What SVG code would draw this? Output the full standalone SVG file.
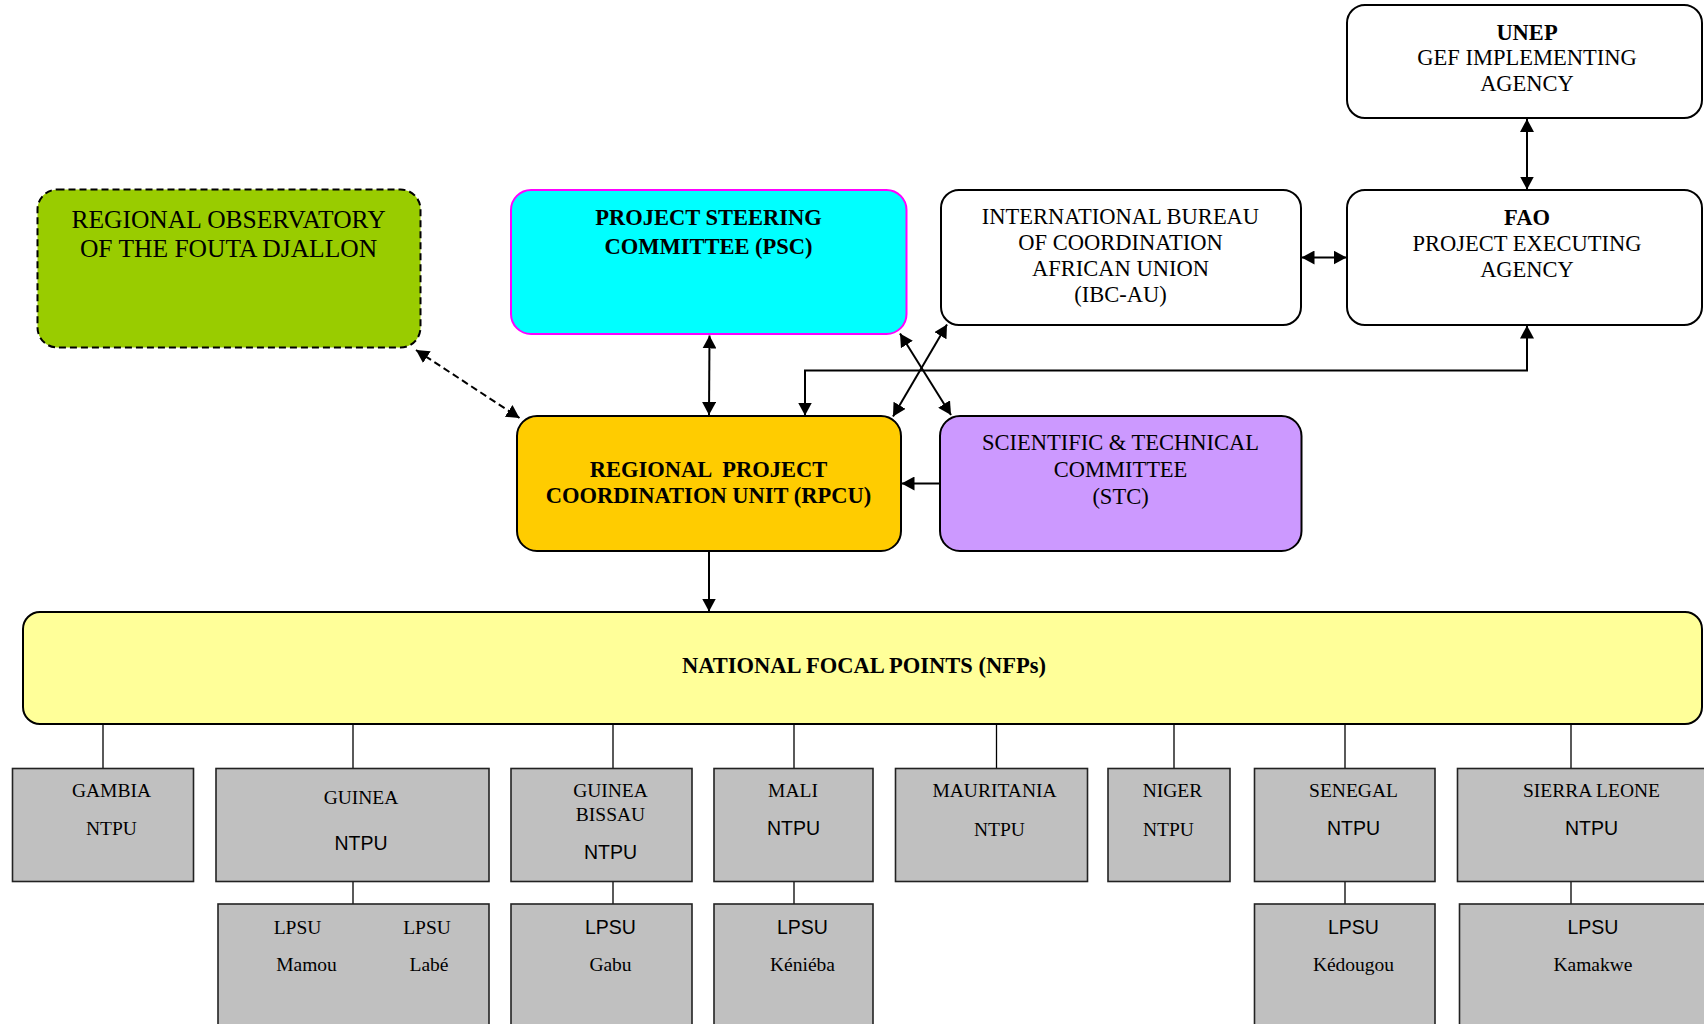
<svg xmlns="http://www.w3.org/2000/svg" width="1704" height="1024" viewBox="0 0 1704 1024">
<style>
.box{stroke:#000;stroke-width:2}
.t{font-family:"Liberation Serif","Times New Roman",serif;font-size:22.5px;text-anchor:middle;fill:#000}
.b{font-weight:bold}
.sm{font-size:19.5px}
.s{font-family:"Liberation Sans",Arial,sans-serif}
.g{fill:#C0C0C0;stroke:#222;stroke-width:1.6}
.ln{stroke:#000;stroke-width:1.3;fill:none}
.ar{stroke:#000;stroke-width:2;fill:none}
</style>
<defs>
<marker id="ah" viewBox="0 0 13 14" refX="13" refY="7" markerWidth="13" markerHeight="14" orient="auto-start-reverse" markerUnits="userSpaceOnUse">
<path d="M0,0 L13,7 L0,14 z" fill="#000"/>
</marker>
</defs>
<rect width="1704" height="1024" fill="#fff"/>

<g id="connectors">
<line class="ar" x1="416" y1="350" x2="519.5" y2="418" stroke-dasharray="7 4" marker-start="url(#ah)" marker-end="url(#ah)"/>
<line class="ar" x1="709.5" y1="335.5" x2="709" y2="415" marker-start="url(#ah)" marker-end="url(#ah)"/>
<line class="ar" x1="900" y1="333.5" x2="951" y2="415" marker-start="url(#ah)" marker-end="url(#ah)"/>
<line class="ar" x1="893" y1="416.5" x2="947" y2="324.5" marker-start="url(#ah)" marker-end="url(#ah)"/>
<polyline class="ar" points="1527,325.5 1527,370.5 805,370.5 805,415.5" marker-start="url(#ah)" marker-end="url(#ah)"/>
<line class="ar" x1="940" y1="483.5" x2="901.5" y2="483.5" marker-end="url(#ah)"/>
<line class="ar" x1="1527" y1="119" x2="1527" y2="189.5" marker-start="url(#ah)" marker-end="url(#ah)"/>
<line class="ar" x1="1301.5" y1="257.5" x2="1346.5" y2="257.5" marker-start="url(#ah)" marker-end="url(#ah)"/>
<line class="ar" x1="709" y1="551" x2="709" y2="611.5" marker-end="url(#ah)"/>
<line class="ln" x1="103" y1="724" x2="103" y2="768"/>
<line class="ln" x1="353" y1="724" x2="353" y2="768"/>
<line class="ln" x1="613" y1="724" x2="613" y2="768"/>
<line class="ln" x1="794" y1="724" x2="794" y2="768"/>
<line class="ln" x1="996.5" y1="724" x2="996.5" y2="768"/>
<line class="ln" x1="1174" y1="724" x2="1174" y2="768"/>
<line class="ln" x1="1345" y1="724" x2="1345" y2="768"/>
<line class="ln" x1="1571" y1="724" x2="1571" y2="768"/>
<line class="ln" x1="353" y1="881.5" x2="353" y2="904"/>
<line class="ln" x1="613" y1="881.5" x2="613" y2="904"/>
<line class="ln" x1="794" y1="881.5" x2="794" y2="904"/>
<line class="ln" x1="1345" y1="881.5" x2="1345" y2="904"/>
<line class="ln" x1="1571" y1="881.5" x2="1571" y2="904"/>
</g>

<g id="observatory">
<rect x="37.5" y="189.5" width="383" height="158" rx="20" fill="#99CC00" stroke="#000" stroke-width="2" stroke-dasharray="7 4"/>
<text class="t" style="font-size:25.5px" x="228.5" y="228.3">REGIONAL OBSERVATORY</text>
<text class="t" style="font-size:25.5px" x="228.5" y="257.3">OF THE FOUTA DJALLON</text>
</g>

<g id="psc">
<rect x="511" y="190" width="395.5" height="144" rx="20" fill="#00FFFF" stroke="#FF00FF" stroke-width="2"/>
<text class="t b" x="708.5" y="225">PROJECT STEERING</text>
<text class="t b" x="708.5" y="254">COMMITTEE (PSC)</text>
</g>

<g id="ibc">
<rect class="box" x="941" y="190" width="360" height="135" rx="18" fill="#fff"/>
<text class="t" x="1120.5" y="224">INTERNATIONAL BUREAU</text>
<text class="t" x="1120.5" y="250">OF COORDINATION</text>
<text class="t" x="1120.5" y="276">AFRICAN UNION</text>
<text class="t" x="1120.5" y="302">(IBC-AU)</text>
</g>

<g id="unep">
<rect class="box" x="1347" y="5" width="355" height="113" rx="18" fill="#fff"/>
<text class="t b" x="1527" y="40">UNEP</text>
<text class="t" x="1527" y="65">GEF IMPLEMENTING</text>
<text class="t" x="1527" y="90.5">AGENCY</text>
</g>

<g id="fao">
<rect class="box" x="1347" y="190" width="355" height="135" rx="18" fill="#fff"/>
<text class="t b" x="1527" y="225">FAO</text>
<text class="t" x="1527" y="250.5">PROJECT EXECUTING</text>
<text class="t" x="1527" y="276.5">AGENCY</text>
</g>

<g id="rpcu">
<rect class="box" x="517" y="416" width="384" height="135" rx="20" fill="#FFCC00"/>
<text class="t b" x="708.5" y="477" xml:space="preserve">REGIONAL  PROJECT</text>
<text class="t b" x="708.5" y="503.3">COORDINATION UNIT (RPCU)</text>
</g>

<g id="stc">
<rect class="box" x="940" y="416" width="361.5" height="135" rx="20" fill="#CC99FF"/>
<text class="t" x="1120.5" y="450">SCIENTIFIC &amp; TECHNICAL</text>
<text class="t" x="1120.5" y="476.5">COMMITTEE</text>
<text class="t" x="1120.5" y="503.5">(STC)</text>
</g>

<g id="nfp">
<rect class="box" x="23" y="612" width="1679" height="112" rx="17" fill="#FFFF99"/>
<text class="t b" x="864" y="673">NATIONAL FOCAL POINTS (NFPs)</text>
</g>

<g id="gambia">
<rect class="g" x="12.5" y="768.5" width="181" height="113"/>
<text class="t sm" x="111.5" y="797">GAMBIA</text>
<text class="t sm" x="111.5" y="835">NTPU</text>
</g>

<g id="guinea">
<rect class="g" x="216" y="768.5" width="273" height="113"/>
<text class="t sm" x="361" y="804">GUINEA</text>
<text class="t sm s" x="361" y="850">NTPU</text>
</g>

<g id="guinea-lpsu">
<rect class="g" x="218" y="904" width="271" height="130"/>
<text class="t sm" x="297.5" y="933.5">LPSU</text>
<text class="t sm" x="427" y="933.5">LPSU</text>
<text class="t sm" x="306.5" y="971">Mamou</text>
<text class="t sm" x="429" y="971">Labé</text>
</g>

<g id="guinea-bissau">
<rect class="g" x="511" y="768.5" width="181" height="113"/>
<text class="t sm" x="610.5" y="797">GUINEA</text>
<text class="t sm" x="610.5" y="821">BISSAU</text>
<text class="t sm s" x="610.5" y="858.5">NTPU</text>
</g>

<g id="guinea-bissau-lpsu">
<rect class="g" x="511" y="904" width="181" height="130"/>
<text class="t sm s" x="610.5" y="933.5">LPSU</text>
<text class="t sm" x="610.5" y="971">Gabu</text>
</g>

<g id="mali">
<rect class="g" x="714" y="768.5" width="159" height="113"/>
<text class="t sm" x="793" y="797">MALI</text>
<text class="t sm s" x="793.5" y="835">NTPU</text>
</g>

<g id="mali-lpsu">
<rect class="g" x="714" y="904" width="159" height="130"/>
<text class="t sm s" x="802.5" y="933.5">LPSU</text>
<text class="t sm" x="802.5" y="971">Kéniéba</text>
</g>

<g id="mauritania">
<rect class="g" x="895.5" y="768.5" width="192" height="113"/>
<text class="t sm" x="994.5" y="797">MAURITANIA</text>
<text class="t sm" x="999.5" y="835.5">NTPU</text>
</g>

<g id="niger">
<rect class="g" x="1108" y="768.5" width="122" height="113"/>
<text class="t sm" x="1172.5" y="797">NIGER</text>
<text class="t sm" x="1168.5" y="835.5">NTPU</text>
</g>

<g id="senegal">
<rect class="g" x="1254.5" y="768.5" width="180.5" height="113"/>
<text class="t sm" x="1353.5" y="797">SENEGAL</text>
<text class="t sm s" x="1353.5" y="835">NTPU</text>
</g>

<g id="senegal-lpsu">
<rect class="g" x="1254.5" y="904" width="180.5" height="130"/>
<text class="t sm s" x="1353.5" y="933.5">LPSU</text>
<text class="t sm" x="1353.5" y="971">Kédougou</text>
</g>

<g id="sierra-leone">
<rect class="g" x="1457.5" y="768.5" width="260" height="113"/>
<text class="t sm" x="1591.5" y="797">SIERRA LEONE</text>
<text class="t sm s" x="1591.5" y="835">NTPU</text>
</g>

<g id="sierra-leone-lpsu">
<rect class="g" x="1459.5" y="904" width="260" height="130"/>
<text class="t sm s" x="1593" y="933.5">LPSU</text>
<text class="t sm" x="1593" y="971">Kamakwe</text>
</g>
</svg>
